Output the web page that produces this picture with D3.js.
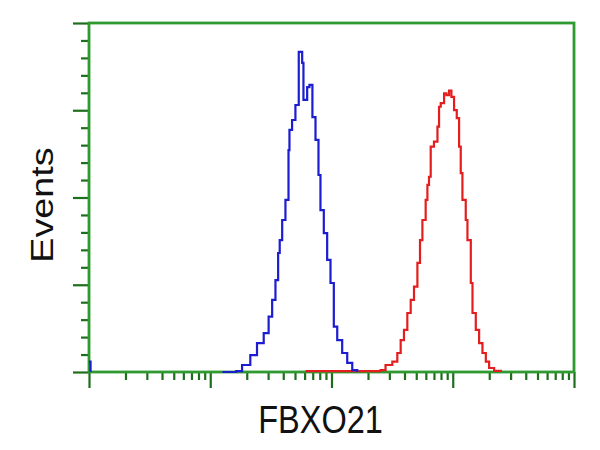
<!DOCTYPE html>
<html>
<head>
<meta charset="utf-8">
<script src="https://cdn.jsdelivr.net/npm/d3@7"></script>
<style>
  html, body { margin: 0; padding: 0; background: #ffffff; }
  svg { display: block; }
</style>
</head>
<body>
<div id="chart"></div>
<script>
// ---- data ----
const xLabel = "FBXO21";
const yLabel = "Events";

const xDomain = [1, 10000];
const yDomain = [0, 200];

const xMajorTicks = [1, 10, 100, 1000, 10000];
const xMinorTicks = [2,3,4,5,6,7,8,9, 20,30,40,50,60,70,80,90,
                     200,300,400,500,600,700,800,900, 2000,3000,4000,5000,6000,7000,8000,9000];
const yMajorTicks = [0, 50, 100, 150, 200];
const yMinorTicks = [10,20,30,40, 60,70,80,90, 110,120,130,140, 160,170,180,190];

// control (blue) histogram: intensity and counts (null = gap in the trace)
const blueIntensity = [1, 1.03, 1.05, 12.6, 16.4, 18.3, 21.4, 24.3, 27.6, 30.3, 32.4, 34.5, 36.3, 37.4, 39.2, 41.7,
  44.2, 45.0, 47.3, 50.4, 53.7, 57.3, 58.7, 63.0, 65.8, 69.6, 73.8, 78.1, 81.1, 86.4, 92.1, 98.1,
  104.5, 111.5, 122.5, 134.8, 148.3, 163];
const blueCount = [6, 0, null, 0, 0.5, 4.0, 9.7, 16.6, 22.3, 31.7, 41.3, 52.7, 68.2, 75.6, 87.1, 98.6,
  127.2, 138.7, 144.4, 153.0, 183.4, 177.1, 155.9, 163.3, 164.5, 146.1, 133.0, 112.9, 92.8, 79.6, 64.2, 51.0,
  26.0, 18.3, 10.9, 5.2, 1.1, 0];

// FBXO21 (red) histogram
const redIntensity = [61, 254, 279, 317.5, 349, 372, 396, 422, 450, 479, 511, 537, 562, 598, 618, 637, 658,
  700, 748, 771, 796, 848, 887, 932, 975, 1025, 1079, 1128, 1164, 1202, 1280, 1322, 1409, 1455, 1549,
  1650, 1758, 1874, 1995, 2194, 2494];
const redCount = [0.5, 1.1, 4.0, 5.9, 10.9, 18.3, 24.1, 33.8, 41.3, 48.9, 62.5, 75.6, 87.1, 98.6, 107.2, 111.9, 129.1,
  132.0, 140.6, 152.0, 154.1, 159.7, 158.7, 161.2, 157.7, 150.1, 145.5, 129.1, 114.0, 98.6, 87.1, 75.6, 51.0, 33.8, 24.1,
  16.6, 10.9, 5.9, 2.3, 0.6, 0];

// ---- drawing ----
const W = 600, H = 450;
const plot = { left: 89, right: 574, top: 23, bottom: 372 };
const frameColor = "#2f9a2f";
const tickColor = "#1d6e1d";

const svg = d3.select("#chart").append("svg").attr("width", W).attr("height", H);

const x = d3.scaleLog().domain(xDomain).range([plot.left, plot.right]);
const y = d3.scaleLinear().domain(yDomain).range([plot.bottom, plot.top]);

function styleAxis(g, w) {
  g.select(".domain").remove();
  g.selectAll("text").remove();
  g.selectAll("line").attr("stroke", tickColor).attr("stroke-width", w);
}

// y ticks
svg.append("g").attr("transform", `translate(${plot.left},0)`)
  .call(d3.axisLeft(y).tickValues(yMinorTicks).tickSize(8).tickFormat(""))
  .call(g => styleAxis(g, 2.2));
svg.append("g").attr("transform", `translate(${plot.left},0)`)
  .call(d3.axisLeft(y).tickValues(yMajorTicks).tickSize(16).tickFormat(""))
  .call(g => styleAxis(g, 2.2));

// x ticks
svg.append("g").attr("transform", `translate(0,${plot.bottom})`)
  .call(d3.axisBottom(x).tickValues(xMinorTicks).tickSize(8).tickFormat(""))
  .call(g => styleAxis(g, 2.2));
svg.append("g").attr("transform", `translate(0,${plot.bottom})`)
  .call(d3.axisBottom(x).tickValues(xMajorTicks).tickSize(16).tickFormat(""))
  .call(g => styleAxis(g, 2.2));

// frame
svg.append("rect")
  .attr("x", plot.left).attr("y", plot.top)
  .attr("width", plot.right - plot.left).attr("height", plot.bottom - plot.top)
  .attr("fill", "none").attr("stroke", frameColor).attr("stroke-width", 2.8);

// histograms
const line = d3.line()
  .defined(d => d[1] !== null)
  .x(d => x(d[0])).y(d => y(d[1]))
  .curve(d3.curveStepAfter);

svg.append("path")
  .datum(redIntensity.map((v, i) => [v, redCount[i]]))
  .attr("d", line)
  .attr("fill", "none").attr("stroke", "#e41e1e").attr("stroke-width", 2.2);

svg.append("path")
  .datum(blueIntensity.map((v, i) => [v, blueCount[i]]))
  .attr("d", line)
  .attr("fill", "none").attr("stroke", "#1c1cd0").attr("stroke-width", 2.2);

// labels (reference is stretched vertically ~1.18x)
svg.append("text")
  .attr("transform", "translate(320.5,433) scale(1,1.18)")
  .attr("text-anchor", "middle")
  .attr("font-family", "Liberation Sans, Arial, sans-serif")
  .attr("font-size", 32.5)
  .attr("fill", "#111")
  .text(xLabel);

svg.append("text")
  .attr("transform", "translate(53,205) scale(1,1.18) rotate(-90)")
  .attr("text-anchor", "middle")
  .attr("font-family", "Liberation Sans, Arial, sans-serif")
  .attr("font-size", 32)
  .attr("fill", "#111")
  .text(yLabel);
</script>
</body>
</html>
